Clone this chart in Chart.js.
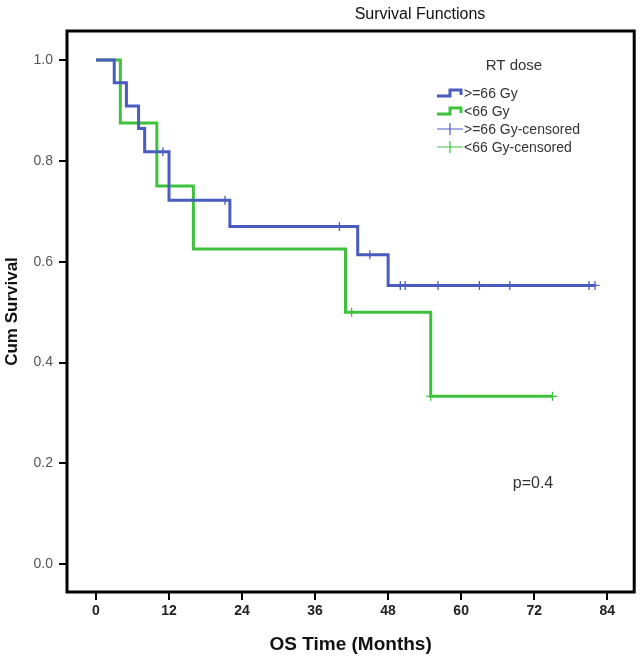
<!DOCTYPE html>
<html>
<head>
<meta charset="utf-8">
<script src="https://cdn.jsdelivr.net/npm/chart.js@4/dist/chart.umd.min.js"></script>
<style>
	html, body { margin: 0; padding: 0; background: #fff; }
	#wrap { width: 640px; height: 659px; }
</style>
</head>
<body>
<div id="wrap"><canvas id="km"></canvas></div>
<script>
// Kaplan-Meier steps (time in months, cumulative survival)
const highDoseTimes = [0, 3, 5, 7, 8, 12, 22, 43, 48, 82];
const highDoseSurv = [1, 0.955, 0.909, 0.864, 0.818, 0.722, 0.670, 0.614, 0.553, 0.553];
const lowDoseTimes = [0, 4, 10, 16, 41, 55, 75];
const lowDoseSurv = [1, 0.875, 0.75, 0.625, 0.5, 0.333, 0.333];

// censored cases
const highCensTimes = [11, 21.2, 40, 45, 50, 50.8, 56.2, 63, 68, 81, 82];
const highCensSurv = [0.818, 0.722, 0.670, 0.614, 0.553, 0.553, 0.553, 0.553, 0.553, 0.553, 0.553];
const lowCensTimes = [42, 55, 75];
const lowCensSurv = [0.5, 0.333, 0.333];

const xTicks = [0, 12, 24, 36, 48, 60, 72, 84];
const yTicks = [0, 0.2, 0.4, 0.6, 0.8, 1.0];

const BLUE = "#4a5cbf";
const GREEN = "#3ec23e";
const FONT = "'Liberation Sans', Arial, sans-serif";

function toPoints(xs, ys) {
	return xs.map((t, i) => ({ x: t, y: ys[i] }));
}

const decorations = {
	id: "decorations",
	afterDraw(chart) {
		const { ctx, chartArea: a } = chart;
		ctx.save();
		// frame
		ctx.strokeStyle = "#000";
		ctx.lineWidth = 3;
		ctx.strokeRect(a.left, a.top, a.right - a.left, a.bottom - a.top);

		// title
		ctx.fillStyle = "#111";
		ctx.textAlign = "center";
		ctx.textBaseline = "middle";
		ctx.font = "16px " + FONT;
		ctx.fillText("Survival Functions", 420, 15);

		// legend
		ctx.fillStyle = "#333";
		ctx.font = "15px " + FONT;
		ctx.fillText("RT dose", 514, 66);
		ctx.textAlign = "left";
		ctx.font = "14px " + FONT;
		const rows = [
			{ text: ">=66 Gy", color: BLUE, kind: "step", y: 93 },
			{ text: "<66 Gy", color: GREEN, kind: "step", y: 111 },
			{ text: ">=66 Gy-censored", color: BLUE, kind: "cross", y: 129 },
			{ text: "<66 Gy-censored", color: GREEN, kind: "cross", y: 147 }
		];
		rows.forEach(r => {
			ctx.strokeStyle = r.color;
			ctx.beginPath();
			if (r.kind === "step") {
				ctx.lineWidth = 3;
				ctx.moveTo(437, r.y + 3);
				ctx.lineTo(450, r.y + 3);
				ctx.lineTo(450, r.y - 3);
				ctx.lineTo(461, r.y - 3);
				ctx.lineTo(461, r.y + 2);
			} else {
				ctx.lineWidth = 1.2;
				ctx.moveTo(437, r.y);
				ctx.lineTo(463, r.y);
				ctx.moveTo(450, r.y - 6);
				ctx.lineTo(450, r.y + 6);
			}
			ctx.stroke();
			ctx.fillStyle = "#333";
			ctx.fillText(r.text, 464, r.y + 1);
		});

		// p value
		ctx.font = "16px " + FONT;
		ctx.textAlign = "center";
		ctx.fillText("p=0.4", 533, 484);
		ctx.restore();
	}
};

new Chart(document.getElementById("km"), {
	type: "scatter",
	data: {
		datasets: [
			{
				label: ">=66 Gy",
				data: toPoints(highDoseTimes, highDoseSurv),
				showLine: true,
				stepped: true,
				borderColor: BLUE,
				borderWidth: 3,
				pointRadius: 0
			},
			{
				label: "<66 Gy",
				data: toPoints(lowDoseTimes, lowDoseSurv),
				showLine: true,
				stepped: true,
				borderColor: GREEN,
				borderWidth: 3,
				pointRadius: 0
			},
			{
				label: ">=66 Gy-censored",
				data: toPoints(highCensTimes, highCensSurv),
				pointStyle: "cross",
				pointRadius: 4.5,
				borderColor: BLUE,
				borderWidth: 1.3
			},
			{
				label: "<66 Gy-censored",
				data: toPoints(lowCensTimes, lowCensSurv),
				pointStyle: "cross",
				pointRadius: 4.5,
				borderColor: GREEN,
				borderWidth: 1.3
			}
		]
	},
	options: {
		responsive: true,
		maintainAspectRatio: false,
		animation: false,
		layout: {
			padding: { top: 31, right: 5, left: 0, bottom: 0 }
		},
		scales: {
			x: {
				type: "linear",
				min: -4.76,
				max: 88.43,
				afterFit: s => { s.height = 67; },
				afterBuildTicks: s => { s.ticks = xTicks.map(v => ({ value: v })); },
				border: { display: false },
				grid: { drawOnChartArea: false, drawTicks: true, tickLength: 8, color: "#000", lineWidth: 2 },
				ticks: {
					padding: 3,
					color: "#222",
					font: { family: FONT, size: 14, weight: "bold" }
				},
				title: {
					display: true,
					text: "OS Time (Months)",
					color: "#111",
					padding: { bottom: 3 },
					font: { family: FONT, size: 19, weight: "bold" }
				}
			},
			y: {
				min: -0.055,
				max: 1.0575,
				afterFit: s => { s.width = 67; },
				afterBuildTicks: s => { s.ticks = yTicks.map(v => ({ value: v })); },
				border: { display: false },
				grid: { drawOnChartArea: false, drawTicks: true, tickLength: 8, color: "#000", lineWidth: 2 },
				ticks: {
					padding: 6,
					color: "#555",
					callback: v => v.toFixed(1),
					font: { family: FONT, size: 14 }
				},
				title: {
					display: true,
					text: "Cum Survival",
					color: "#111",
					padding: { top: 2 },
					font: { family: FONT, size: 17, weight: "bold" }
				}
			}
		},
		plugins: {
			legend: { display: false },
			tooltip: { enabled: false }
		}
	},
	plugins: [decorations]
});
</script>
</body>
</html>
